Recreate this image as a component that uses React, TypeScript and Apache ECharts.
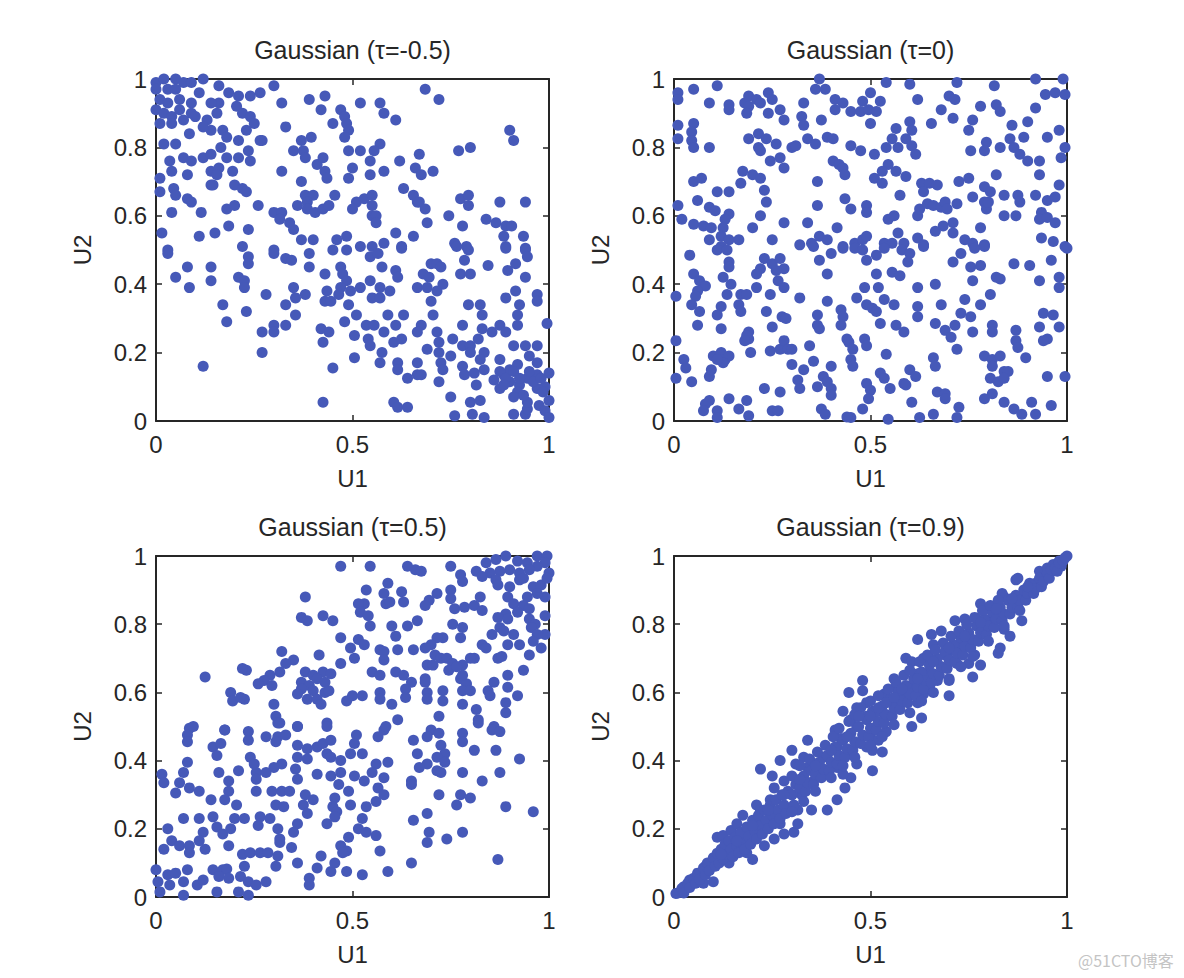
import React, { useEffect, useRef } from "react";
import * as echarts from "echarts";

const panelTitles = ["Gaussian (τ=-0.5)", "Gaussian (τ=0)", "Gaussian (τ=0.5)", "Gaussian (τ=0.9)"];
const xAxisName = "U1";
const yAxisName = "U2";
const xTickStep = 0.5;
const yTickStep = 0.2;
const watermark = "@51CTO博客";

const tauNeg05: number[][] = [
  [0.00,0.99],[0.02,1.00],[0.05,1.00],[0.07,0.99],[0.00,0.97],[0.03,0.97],[0.05,0.97],[0.01,0.94],[0.03,0.93],[0.06,0.94],[0.00,0.91],[0.02,0.90],[0.04,0.89],[0.07,0.88],[0.01,0.87],[0.04,0.87],[0.06,0.91],[0.09,0.99],[0.12,1.00],[0.11,0.96],[0.09,0.93],[0.09,0.90],[0.10,0.89],[0.13,0.88],[0.14,0.85],[0.155,0.90],[0.16,0.93],[0.16,0.98],[0.185,0.96],[0.14,0.93],[0.085,0.84],[0.12,0.86],
  [0.21,0.95],[0.24,0.95],[0.265,0.96],[0.205,0.92],[0.22,0.90],[0.24,0.89],[0.25,0.87],[0.30,0.98],[0.32,0.93],[0.33,0.86],[0.27,0.82],[0.39,0.94],[0.43,0.95],[0.42,0.91],[0.47,0.91],[0.48,0.89],[0.45,0.87],[0.485,0.87],[0.49,0.85],[0.48,0.83],[0.52,0.93],[0.57,0.93],[0.58,0.90],[0.61,0.88],[0.685,0.97],[0.72,0.94],[0.90,0.85],[0.91,0.82],
  [0.17,0.85],[0.18,0.83],[0.23,0.85],[0.21,0.82],
  [0.02,0.81],[0.05,0.81],[0.035,0.76],[0.04,0.73],[0.07,0.77],[0.09,0.76],[0.08,0.72],[0.12,0.77],[0.14,0.78],[0.165,0.80],[0.18,0.77],[0.14,0.73],[0.16,0.74],[0.155,0.72],[0.14,0.69],[0.195,0.73],[0.21,0.77],[0.235,0.79],[0.24,0.76],[0.265,0.82],
  [0.35,0.79],[0.37,0.82],[0.395,0.83],[0.375,0.79],[0.38,0.77],[0.41,0.75],[0.425,0.77],[0.43,0.73],[0.435,0.71],[0.32,0.73],[0.37,0.70],[0.49,0.79],[0.52,0.79],[0.545,0.76],[0.57,0.81],[0.555,0.79],[0.50,0.74],[0.49,0.71],[0.545,0.72],[0.58,0.73],[0.62,0.76],[0.67,0.78],[0.66,0.74],[0.675,0.72],[0.705,0.73],[0.77,0.79],[0.80,0.80],
  [0.01,0.71],[0.01,0.67],[0.045,0.68],[0.05,0.66],[0.08,0.65],[0.09,0.64],[0.145,0.69],[0.20,0.69],[0.22,0.68],[0.23,0.67],[0.38,0.66],[0.40,0.66],[0.455,0.66],[0.385,0.64],[0.51,0.64],[0.53,0.65],[0.55,0.66],[0.63,0.68],[0.655,0.66],[0.665,0.64],[0.775,0.65],[0.795,0.66],[0.795,0.63],[0.875,0.64],[0.94,0.64],
  [0.04,0.61],[0.115,0.61],[0.18,0.62],[0.20,0.63],[0.26,0.63],[0.30,0.61],[0.32,0.61],[0.315,0.59],[0.34,0.58],[0.35,0.56],[0.36,0.63],[0.385,0.62],[0.405,0.61],[0.425,0.62],[0.44,0.63],[0.50,0.62],[0.55,0.63],[0.55,0.60],[0.56,0.60],[0.56,0.58],[0.67,0.64],[0.685,0.62],[0.69,0.58],[0.745,0.60],[0.78,0.57],[0.84,0.59],[0.865,0.58],[0.89,0.57],[0.905,0.57],[0.885,0.54],[0.935,0.54],[0.015,0.55],[0.11,0.54],[0.15,0.55],[0.185,0.57],[0.235,0.56],[0.61,0.55],[0.655,0.54],[0.37,0.53],[0.40,0.53],[0.485,0.54],[0.46,0.53],[0.76,0.52],[0.79,0.51],[0.89,0.51],[0.94,0.505],[0.22,0.51],[0.52,0.51],[0.55,0.51],[0.58,0.52],[0.625,0.51],[0.30,0.50],[0.03,0.50],
  [0.03,0.49],[0.08,0.45],[0.05,0.42],[0.085,0.39],[0.14,0.45],[0.14,0.41],[0.235,0.48],[0.235,0.46],[0.21,0.42],[0.225,0.41],[0.225,0.39],[0.30,0.49],[0.33,0.475],[0.345,0.47],[0.39,0.49],[0.39,0.45],[0.35,0.39],[0.38,0.37],[0.355,0.36],[0.33,0.34],[0.28,0.37],[0.17,0.34],[0.23,0.32],[0.18,0.29],[0.355,0.31],[0.33,0.28],[0.30,0.28],[0.30,0.26],[0.27,0.26],[0.27,0.20],[0.12,0.16],[0.45,0.50],[0.485,0.50],[0.545,0.48],[0.565,0.49],[0.625,0.505],[0.47,0.45],[0.475,0.43],[0.43,0.43],[0.485,0.41],[0.47,0.39],[0.495,0.38],[0.465,0.37],[0.435,0.38],[0.43,0.35],[0.445,0.35],[0.49,0.34],[0.52,0.39],[0.545,0.41],[0.57,0.39],[0.55,0.36],[0.57,0.36],[0.595,0.38],[0.575,0.45],[0.61,0.44],[0.615,0.42],[0.70,0.46],[0.715,0.46],[0.725,0.45],[0.68,0.43],[0.695,0.42],[0.665,0.39],[0.69,0.39],[0.73,0.40],[0.715,0.38],[0.70,0.35],[0.765,0.51],[0.795,0.50],[0.785,0.47],[0.775,0.43],[0.80,0.43],[0.845,0.455],[0.89,0.505],[0.94,0.50],[0.945,0.48],[0.915,0.46],[0.895,0.44],[0.94,0.42],[0.915,0.38],[0.89,0.36],[0.97,0.37],[0.97,0.35],[0.925,0.34],[0.92,0.31],[0.795,0.34],[0.825,0.34],[0.83,0.31],[0.92,0.28],[0.995,0.285],[0.78,0.28],[0.705,0.31],
  [0.48,0.29],[0.51,0.31],[0.535,0.28],[0.555,0.28],[0.59,0.31],[0.61,0.28],[0.63,0.31],[0.42,0.27],[0.44,0.26],[0.425,0.23],[0.505,0.25],[0.54,0.24],[0.545,0.22],[0.58,0.26],[0.605,0.23],[0.625,0.24],[0.675,0.28],[0.665,0.26],[0.715,0.26],[0.72,0.23],[0.755,0.24],[0.78,0.22],[0.80,0.22],[0.82,0.24],[0.83,0.27],[0.855,0.26],[0.875,0.28],[0.89,0.26],[0.91,0.22],[0.94,0.22],[0.97,0.22],[0.95,0.19],[0.97,0.17],[0.69,0.21],[0.72,0.20],[0.75,0.19],[0.80,0.20],[0.835,0.20],[0.875,0.18],[0.825,0.18],[0.575,0.20],[0.57,0.17],[0.505,0.185],[0.45,0.155],[0.615,0.17],[0.615,0.15],[0.665,0.17],[0.725,0.17],[0.73,0.15],[0.72,0.115],[0.64,0.125],[0.665,0.135],[0.675,0.135],[0.78,0.16],[0.785,0.135],[0.81,0.14],[0.835,0.15],[0.815,0.105],[0.86,0.12],[0.885,0.135],[0.90,0.15],[0.92,0.165],[0.90,0.115],[0.925,0.105],[0.945,0.125],[0.97,0.135],[0.99,0.10],[1.0,0.14],[0.92,0.085],[0.97,0.095],[0.875,0.095],[0.75,0.07],[0.80,0.055],[0.825,0.06],[0.805,0.02],[0.835,0.01],[0.76,0.015],[0.91,0.02],[0.94,0.02],[0.945,0.035],[0.945,0.055],[0.975,0.045],[1.0,0.06],[0.99,0.03],[1.0,0.01],[0.425,0.055],[0.605,0.055],[0.615,0.04],[0.64,0.04],[0.875,0.145],[0.89,0.125],[0.91,0.145],[0.925,0.125],[0.96,0.115],[0.98,0.125],[0.985,0.085],[0.935,0.075],[0.91,0.07],[0.885,0.105],[0.95,0.145]
];

const tauZero: number[][] = [
  [0.01,0.96],[0.01,0.94],[0.05,0.97],[0.11,0.98],[0.09,0.93],[0.14,0.925],[0.14,0.91],[0.18,0.93],[0.19,0.95],[0.21,0.94],[0.19,0.92],[0.185,0.90],[0.22,0.93],[0.24,0.96],[0.25,0.94],[0.24,0.90],[0.27,0.91],[0.28,0.88],[0.37,1.0],[0.36,0.97],[0.385,0.97],[0.33,0.93],[0.325,0.89],[0.33,0.865],[0.375,0.88],[0.41,0.94],[0.43,0.93],[0.41,0.91],[0.45,0.905],[0.475,0.905],[0.48,0.935],[0.50,0.96],[0.495,0.91],[0.515,0.905],[0.525,0.935],[0.50,0.87],[0.54,0.99],[0.60,0.985],[0.62,0.94],[0.60,0.875],[0.605,0.85],[0.565,0.855],[0.655,0.87],[0.68,0.91],[0.70,0.95],[0.715,0.94],[0.71,0.885],[0.72,0.99],[0.78,0.92],[0.815,0.98],[0.82,0.925],[0.83,0.905],[0.76,0.88],[0.75,0.85],[0.86,0.865],[0.90,0.875],[0.92,0.915],[0.92,1.0],[0.99,1.0],[0.945,0.955],[0.97,0.96],[0.995,0.955],[0.98,0.85],[0.95,0.83],[0.89,0.83],[0.855,0.825],[0.795,0.815],[0.79,0.79],[0.83,0.80],[0.755,0.79],[0.865,0.80],[0.88,0.78],[0.90,0.76],[0.93,0.76],[0.93,0.72],[0.995,0.80],[0.985,0.77],[0.98,0.69],
  [0.01,0.865],[0.01,0.825],[0.05,0.87],[0.045,0.845],[0.045,0.82],[0.05,0.80],[0.09,0.80],[0.19,0.825],[0.215,0.84],[0.235,0.825],[0.215,0.80],[0.22,0.79],[0.26,0.81],[0.245,0.76],[0.27,0.77],[0.28,0.74],[0.30,0.80],[0.31,0.805],[0.34,0.825],[0.36,0.81],[0.39,0.83],[0.405,0.825],[0.45,0.805],[0.475,0.79],[0.51,0.78],[0.54,0.80],[0.555,0.825],[0.57,0.80],[0.59,0.825],[0.605,0.805],[0.615,0.78],[0.405,0.76],[0.42,0.75],[0.43,0.74],[0.435,0.72],[0.545,0.75],[0.53,0.73],[0.51,0.71],[0.53,0.695],[0.565,0.73],[0.59,0.715],[0.365,0.70],[0.365,0.63],[0.175,0.73],[0.20,0.72],[0.22,0.71],[0.17,0.695],[0.05,0.70],[0.07,0.71],[0.11,0.67],[0.14,0.67],[0.23,0.675],[0.235,0.64],[0.06,0.645],[0.09,0.625],[0.105,0.615],[0.14,0.605],[0.13,0.59],[0.125,0.565],[0.01,0.63],[0.02,0.59],[0.05,0.575],[0.075,0.57],[0.095,0.565],[0.09,0.53],[0.12,0.54],[0.14,0.53],[0.165,0.53],[0.12,0.51],[0.20,0.565],[0.22,0.60],[0.25,0.53],[0.28,0.58],[0.34,0.58],[0.32,0.515],[0.35,0.52],[0.37,0.54],[0.39,0.53],[0.415,0.565],[0.43,0.51],[0.435,0.65],[0.45,0.62],[0.49,0.63],[0.49,0.61],[0.545,0.59],[0.56,0.60],[0.57,0.55],[0.535,0.52],[0.555,0.52],[0.46,0.52],[0.48,0.53],[0.49,0.54],[0.575,0.66],[0.62,0.60],[0.625,0.62],[0.645,0.635],[0.66,0.63],[0.68,0.625],[0.69,0.64],[0.695,0.62],[0.63,0.695],[0.65,0.695],[0.67,0.69],[0.635,0.67],[0.72,0.635],[0.725,0.70],[0.75,0.71],[0.76,0.655],[0.79,0.64],[0.795,0.62],[0.80,0.64],[0.79,0.685],[0.805,0.67],[0.82,0.72],[0.84,0.66],[0.875,0.66],[0.88,0.64],[0.84,0.60],[0.87,0.60],[0.92,0.66],[0.95,0.645],[0.97,0.655],[0.935,0.61],[0.93,0.59],[0.95,0.595],[0.97,0.58],[0.78,0.565],[0.71,0.58],[0.685,0.57],[0.665,0.555],[0.71,0.55],[0.62,0.535],[0.635,0.515],[0.585,0.52],[0.74,0.53],[0.76,0.52],[0.79,0.515],[0.935,0.535],[0.965,0.525],[0.995,0.51],
  [0.04,0.485],[0.11,0.50],[0.135,0.50],[0.14,0.465],[0.14,0.45],[0.05,0.43],[0.065,0.41],[0.08,0.395],[0.06,0.38],[0.055,0.365],[0.005,0.365],[0.045,0.34],[0.065,0.32],[0.06,0.28],[0.005,0.235],[0.125,0.42],[0.145,0.40],[0.135,0.37],[0.17,0.37],[0.185,0.37],[0.165,0.34],[0.17,0.32],[0.12,0.335],[0.11,0.31],[0.12,0.27],[0.19,0.26],[0.19,0.24],[0.195,0.20],[0.23,0.475],[0.22,0.445],[0.21,0.43],[0.25,0.46],[0.27,0.475],[0.28,0.445],[0.26,0.44],[0.265,0.41],[0.28,0.39],[0.21,0.39],[0.245,0.37],[0.235,0.32],[0.275,0.305],[0.285,0.30],[0.25,0.275],[0.32,0.36],[0.245,0.205],[0.27,0.21],[0.28,0.235],[0.29,0.21],[0.30,0.21],[0.345,0.22],[0.30,0.165],[0.33,0.15],[0.355,0.175],[0.365,0.31],[0.365,0.28],[0.37,0.27],[0.39,0.35],[0.39,0.43],[0.37,0.47],[0.355,0.51],[0.40,0.49],[0.425,0.325],[0.43,0.305],[0.425,0.28],[0.43,0.505],[0.46,0.505],[0.48,0.50],[0.49,0.47],[0.515,0.485],[0.515,0.43],[0.555,0.435],[0.575,0.425],[0.535,0.505],[0.58,0.50],[0.60,0.49],[0.595,0.465],[0.635,0.51],
  [0.485,0.39],[0.52,0.39],[0.465,0.36],[0.49,0.34],[0.505,0.33],[0.515,0.32],[0.535,0.355],[0.56,0.34],[0.525,0.285],[0.565,0.28],[0.585,0.26],[0.62,0.335],[0.62,0.305],[0.62,0.39],[0.665,0.40],[0.68,0.34],[0.665,0.285],[0.69,0.265],[0.705,0.245],[0.715,0.28],[0.72,0.21],[0.73,0.315],[0.755,0.305],[0.74,0.355],[0.76,0.26],[0.78,0.34],[0.805,0.37],[0.76,0.41],[0.82,0.42],[0.83,0.415],[0.71,0.465],[0.73,0.49],[0.755,0.45],[0.78,0.455],[0.765,0.505],[0.79,0.51],[0.81,0.28],[0.81,0.26],[0.865,0.46],[0.905,0.455],[0.93,0.41],[0.96,0.47],[0.98,0.42],[0.98,0.39],[1.0,0.505],[0.94,0.315],[0.965,0.31],[0.98,0.275],[0.93,0.275],[0.95,0.24],[0.94,0.235],[0.87,0.265],[0.87,0.235],[0.875,0.215],[0.895,0.185],[0.79,0.19],[0.81,0.18],[0.83,0.19],[0.81,0.16],[0.805,0.125],[0.825,0.115],[0.84,0.145],[0.81,0.08],[0.79,0.065],[0.84,0.055],[0.865,0.035],[0.885,0.02],[0.92,0.02],[0.91,0.055],[0.96,0.045],[0.95,0.13],[0.995,0.13],[0.725,0.04],[0.72,0.01],[0.66,0.02],[0.625,0.01],[0.67,0.085],[0.69,0.08],[0.69,0.065],[0.605,0.055],[0.66,0.185],[0.665,0.16],[0.60,0.15],[0.615,0.13],[0.585,0.11],[0.59,0.105],[0.55,0.095],[0.525,0.14],[0.535,0.125],[0.54,0.195],[0.49,0.11],[0.50,0.09],[0.495,0.065],[0.48,0.035],[0.545,0.005],[0.45,0.01],[0.44,0.012],
  [0.38,0.13],[0.39,0.115],[0.40,0.095],[0.40,0.075],[0.365,0.10],[0.315,0.12],[0.32,0.095],[0.27,0.085],[0.23,0.095],[0.375,0.035],[0.385,0.02],[0.40,0.16],[0.45,0.18],[0.455,0.16],[0.445,0.23],[0.455,0.21],[0.485,0.24],[0.49,0.22],[0.44,0.24],[0.09,0.06],[0.08,0.05],[0.075,0.03],[0.11,0.03],[0.11,0.01],[0.14,0.065],[0.165,0.035],[0.185,0.06],[0.19,0.015],[0.25,0.03],[0.265,0.03],[0.005,0.125],[0.045,0.115],[0.09,0.13],[0.095,0.15],[0.025,0.18],[0.03,0.155],[0.10,0.19],[0.12,0.20],[0.13,0.18],[0.14,0.19],[0.125,0.17],[0.11,0.18],[0.185,0.25],[0.18,0.235],[0.85,0.145],[0.84,0.125]
];

const tauPos05: number[][] = [
  [0.84,0.98],[0.865,0.99],[0.89,1.0],[0.92,0.985],[0.945,0.98],[0.97,1.0],[0.995,1.0],[0.99,0.98],[1.0,0.95],[0.97,0.97],[0.95,0.96],[0.925,0.95],[0.90,0.96],[0.875,0.955],[0.85,0.95],[0.815,0.955],[0.83,0.94],[0.865,0.93],[0.87,0.915],[0.925,0.93],[0.935,0.935],[0.90,0.91],[0.96,0.91],[0.98,0.915],[0.995,0.935],[0.99,0.88],[0.97,0.89],[0.945,0.88],[0.895,0.88],[0.91,0.86],[0.935,0.855],[0.95,0.845],[0.92,0.835],[0.89,0.83],[0.87,0.82],[0.895,0.815],[0.99,0.825],[0.95,0.815],[0.965,0.80],[0.955,0.79],[0.99,0.77],[0.97,0.77],[0.96,0.75],[0.98,0.73],[0.875,0.79],[0.855,0.77],[0.885,0.78],[0.91,0.77],[0.895,0.74],[0.925,0.74],[0.95,0.71],[0.87,0.70],[0.88,0.705],[0.83,0.74],[0.84,0.73],[0.81,0.70],[0.935,0.665],[0.895,0.65],[0.86,0.63],[0.895,0.615],[0.92,0.59],[0.89,0.57],[0.89,0.54],[0.82,0.52],[0.815,0.55],[0.845,0.605],[0.85,0.59],[0.78,0.565],
  [0.75,0.97],[0.775,0.945],[0.78,0.925],[0.75,0.90],[0.75,0.875],[0.76,0.845],[0.785,0.85],[0.81,0.855],[0.825,0.88],[0.83,0.84],[0.755,0.80],[0.78,0.79],[0.775,0.76],[0.80,0.70],[0.78,0.68],[0.775,0.64],[0.79,0.625],[0.78,0.605],[0.80,0.605],[0.78,0.65],[0.73,0.76],[0.715,0.76],[0.70,0.74],[0.685,0.73],[0.71,0.71],[0.725,0.70],[0.74,0.70],[0.755,0.685],[0.745,0.665],[0.765,0.675],[0.69,0.68],[0.705,0.68],[0.685,0.64],[0.685,0.63],[0.73,0.605],[0.73,0.575],[0.69,0.60],[0.69,0.58],[0.72,0.53],[0.64,0.97],[0.66,0.96],[0.675,0.955],[0.715,0.89],[0.695,0.87],[0.685,0.855],[0.665,0.81],[0.64,0.795],[0.655,0.725],[0.615,0.725],[0.61,0.66],[0.63,0.65],[0.65,0.63],[0.635,0.61],[0.635,0.585],[0.60,0.565],[0.615,0.52],[0.57,0.60],[0.57,0.58],[0.55,0.66],[0.57,0.65],[0.57,0.725],[0.58,0.72],[0.58,0.695],[0.59,0.92],[0.58,0.89],[0.585,0.86],[0.595,0.865],[0.625,0.895],[0.63,0.865],[0.60,0.795],[0.61,0.765],
  [0.535,0.90],[0.53,0.86],[0.515,0.86],[0.52,0.835],[0.54,0.825],[0.545,0.795],[0.545,0.97],[0.47,0.97],[0.47,0.76],[0.515,0.755],[0.495,0.73],[0.505,0.70],[0.53,0.74],[0.47,0.685],[0.425,0.825],[0.45,0.81],[0.38,0.88],[0.37,0.82],[0.385,0.81],[0.415,0.71],[0.32,0.72],[0.35,0.695],[0.33,0.685],[0.315,0.66],[0.29,0.65],[0.275,0.635],[0.26,0.625],[0.295,0.62],[0.23,0.665],[0.22,0.67],[0.38,0.66],[0.40,0.65],[0.425,0.66],[0.445,0.655],[0.37,0.63],[0.39,0.62],[0.41,0.64],[0.43,0.63],[0.37,0.61],[0.40,0.605],[0.43,0.60],[0.44,0.605],[0.36,0.595],[0.385,0.58],[0.41,0.58],[0.42,0.565],[0.30,0.565],[0.305,0.53],[0.31,0.51],[0.36,0.50],[0.435,0.51],[0.125,0.645],[0.19,0.60],[0.195,0.575],[0.225,0.58],[0.215,0.585],[0.485,0.575],[0.50,0.59],[0.525,0.59],[0.085,0.495],[0.175,0.49],[0.58,0.49],[0.70,0.49],[0.86,0.50],
  [0.095,0.50],[0.08,0.475],[0.08,0.455],[0.175,0.49],[0.235,0.485],[0.235,0.46],[0.28,0.47],[0.31,0.47],[0.33,0.475],[0.305,0.455],[0.315,0.51],[0.36,0.50],[0.36,0.445],[0.385,0.435],[0.41,0.44],[0.425,0.45],[0.445,0.46],[0.435,0.42],[0.445,0.41],[0.47,0.40],[0.435,0.50],[0.385,0.405],[0.36,0.41],[0.355,0.375],[0.51,0.475],[0.505,0.45],[0.495,0.42],[0.525,0.42],[0.565,0.47],[0.585,0.50],[0.82,0.51],[0.855,0.49],[0.875,0.485],[0.78,0.48],[0.78,0.455],[0.72,0.48],[0.69,0.47],[0.655,0.46],[0.725,0.445],[0.735,0.42],[0.715,0.41],[0.735,0.395],[0.69,0.39],[0.67,0.38],[0.715,0.37],[0.725,0.365],[0.665,0.42],[0.81,0.43],[0.865,0.43],[0.925,0.405],[0.78,0.365],[0.875,0.365],[0.83,0.34],[0.65,0.34],[0.65,0.33],[0.59,0.395],[0.56,0.39],[0.55,0.365],[0.58,0.35],[0.53,0.34],[0.565,0.32],[0.58,0.30],[0.56,0.28],[0.535,0.265],[0.525,0.23],[0.515,0.20],[0.535,0.19],[0.56,0.18],
  [0.49,0.31],[0.495,0.27],[0.455,0.29],[0.45,0.265],[0.46,0.25],[0.435,0.215],[0.455,0.235],[0.445,0.355],[0.47,0.365],[0.465,0.33],[0.505,0.355],[0.41,0.36],[0.36,0.345],[0.38,0.30],[0.40,0.285],[0.375,0.27],[0.385,0.245],[0.36,0.215],[0.35,0.19],[0.32,0.39],[0.30,0.38],[0.28,0.365],[0.255,0.365],[0.24,0.41],[0.25,0.39],[0.255,0.345],[0.255,0.31],[0.295,0.31],[0.32,0.31],[0.34,0.31],[0.305,0.27],[0.325,0.265],[0.29,0.23],[0.265,0.235],[0.26,0.21],[0.31,0.20],[0.315,0.17],[0.345,0.145],[0.315,0.16],[0.145,0.44],[0.165,0.45],[0.155,0.415],[0.08,0.395],[0.07,0.365],[0.015,0.36],[0.02,0.335],[0.06,0.335],[0.085,0.32],[0.05,0.305],[0.11,0.31],[0.16,0.365],[0.185,0.34],[0.21,0.37],[0.185,0.31],[0.175,0.285],[0.14,0.285],[0.205,0.27],[0.07,0.23],[0.11,0.23],[0.145,0.235],[0.155,0.205],[0.17,0.185],[0.19,0.20],[0.20,0.23],[0.225,0.23],
  [0.03,0.20],[0.04,0.165],[0.02,0.14],[0.06,0.15],[0.085,0.15],[0.085,0.13],[0.12,0.19],[0.11,0.165],[0.125,0.14],[0.185,0.15],[0.22,0.125],[0.24,0.13],[0.265,0.13],[0.285,0.13],[0.31,0.12],[0.225,0.09],[0.305,0.09],[0.36,0.10],[0.00,0.08],[0.03,0.065],[0.05,0.07],[0.08,0.08],[0.005,0.045],[0.035,0.035],[0.07,0.045],[0.01,0.015],[0.07,0.005],[0.105,0.035],[0.12,0.05],[0.145,0.08],[0.17,0.08],[0.18,0.082],[0.16,0.06],[0.185,0.055],[0.215,0.06],[0.155,0.015],[0.21,0.015],[0.235,0.005],[0.235,0.045],[0.255,0.035],[0.28,0.045],[0.39,0.055],[0.39,0.035],[0.41,0.085],[0.42,0.12],[0.445,0.075],[0.455,0.10],[0.485,0.075],[0.47,0.15],[0.485,0.135],[0.475,0.13],[0.49,0.175],[0.525,0.065],[0.57,0.135],[0.59,0.075],[0.65,0.10],[0.655,0.225],[0.69,0.245],[0.695,0.19],[0.69,0.16],[0.74,0.17],[0.78,0.19],[0.775,0.30],[0.765,0.27],[0.80,0.29],[0.72,0.30],[0.87,0.11],[0.89,0.265],[0.96,0.25]
];

const tauPos09: number[][] = [
  [0.005,0.01],[0.025,0.03],[0.04,0.05],[0.06,0.065],[0.075,0.04],[0.10,0.045],[0.08,0.09],[0.10,0.11],[0.12,0.125],[0.135,0.145],[0.11,0.175],[0.125,0.18],[0.145,0.195],[0.16,0.215],[0.175,0.24],[0.17,0.165],[0.20,0.11],[0.14,0.10],[0.185,0.13],[0.16,0.145],[0.195,0.165],[0.215,0.225],[0.23,0.15],[0.21,0.27],[0.22,0.255],[0.245,0.225],[0.255,0.17],[0.245,0.285],[0.27,0.215],[0.28,0.185],[0.305,0.19],[0.29,0.25],[0.315,0.255],[0.315,0.215],[0.255,0.32],[0.28,0.34],[0.30,0.30],[0.325,0.30],[0.25,0.355],[0.22,0.375],[0.27,0.40],[0.30,0.43],[0.31,0.39],[0.33,0.41],[0.34,0.38],[0.34,0.46],[0.355,0.34],[0.35,0.255],[0.36,0.39],[0.38,0.41],[0.39,0.36],[0.39,0.255],[0.415,0.285],[0.435,0.32],[0.415,0.38],[0.415,0.44],[0.41,0.49],[0.425,0.465],[0.45,0.42],[0.465,0.39],[0.45,0.35],[0.43,0.36],
  [0.43,0.545],[0.445,0.60],[0.48,0.635],[0.48,0.605],[0.465,0.555],[0.45,0.52],[0.465,0.50],[0.49,0.53],[0.49,0.57],[0.505,0.545],[0.50,0.47],[0.49,0.44],[0.52,0.46],[0.505,0.43],[0.53,0.425],[0.505,0.37],[0.515,0.50],[0.54,0.485],[0.535,0.535],[0.535,0.595],[0.55,0.575],[0.56,0.64],[0.565,0.615],[0.575,0.565],[0.585,0.59],[0.60,0.615],[0.59,0.70],[0.605,0.69],[0.62,0.655],[0.605,0.50],[0.63,0.525],[0.62,0.57],[0.635,0.595],[0.65,0.615],[0.62,0.755],[0.655,0.77],[0.68,0.78],[0.66,0.74],[0.65,0.66],[0.67,0.635],[0.68,0.675],[0.70,0.59],[0.70,0.635],[0.72,0.685],[0.72,0.73],[0.715,0.81],[0.74,0.815],[0.735,0.77],[0.73,0.745],[0.75,0.74],[0.765,0.71],[0.75,0.685],[0.78,0.68],[0.76,0.645],[0.695,0.715],[0.69,0.71],[0.65,0.70],[0.635,0.70],
  [0.78,0.86],[0.77,0.815],[0.785,0.79],[0.81,0.845],[0.825,0.715],[0.83,0.73],[0.805,0.81],[0.82,0.82],[0.84,0.785],[0.855,0.765],[0.84,0.88],[0.835,0.89],[0.86,0.865],[0.875,0.85],[0.89,0.88],[0.885,0.81],[0.87,0.93],[0.875,0.935],[0.895,0.90],[0.92,0.92],[0.93,0.955],[0.95,0.965],[0.94,0.935],[0.965,0.975],[0.98,0.985],[1.0,1.0],[0.985,0.97],[0.955,0.95],[0.905,0.92],
  [0.01,0.012],[0.02,0.025],[0.025,0.012],[0.035,0.04],[0.04,0.028],[0.05,0.055],[0.055,0.04],[0.06,0.07],[0.065,0.052],[0.075,0.085],[0.08,0.065],[0.085,0.1],[0.09,0.078],[0.1,0.115],[0.105,0.09],[0.11,0.128],[0.115,0.1],[0.12,0.14],[0.125,0.112],[0.13,0.155],[0.135,0.125],[0.14,0.165],[0.145,0.14],[0.15,0.118],[0.155,0.175],[0.16,0.15],[0.165,0.13],[0.17,0.19],[0.175,0.16],[0.18,0.14],[0.185,0.205],[0.19,0.178],[0.195,0.155],[0.2,0.225],[0.205,0.195],[0.21,0.17],[0.215,0.24],[0.22,0.21],[0.225,0.185],[0.23,0.255],[0.235,0.225],[0.24,0.2],[0.245,0.27],[0.25,0.24],[0.255,0.215],[0.26,0.285],[0.265,0.255],[0.27,0.23],[0.275,0.3],[0.28,0.27],[0.285,0.245],[0.29,0.31],[0.3,0.3],[0.305,0.27],[0.31,0.33],[0.32,0.32],[0.33,0.355],[0.335,0.31],[0.34,0.335],[0.35,0.37],[0.355,0.33],[0.36,0.36],[0.37,0.395],[0.375,0.35],[0.38,0.375],[0.39,0.415],[0.395,0.37],[0.4,0.395],[0.41,0.44],[0.415,0.39],[0.42,0.415],[0.43,0.46],[0.435,0.41],[0.44,0.435],[0.45,0.48],[0.455,0.43],[0.46,0.455],[0.47,0.5],[0.475,0.45],[0.48,0.475],[0.49,0.52],[0.495,0.47],[0.5,0.495],[0.51,0.54],[0.515,0.49],[0.52,0.515],[0.53,0.56],[0.535,0.51],[0.54,0.535],[0.55,0.58],[0.555,0.53],[0.56,0.555],[0.57,0.6],[0.575,0.55],[0.58,0.575],[0.59,0.62],[0.595,0.57],[0.6,0.595],[0.61,0.64],[0.615,0.59],[0.62,0.615],[0.63,0.66],[0.635,0.61],[0.64,0.635],[0.65,0.68],[0.655,0.63],[0.66,0.655],[0.67,0.7],[0.675,0.65],[0.68,0.675],[0.69,0.72],[0.695,0.67],[0.7,0.695],[0.71,0.74],[0.715,0.69],[0.72,0.715],[0.73,0.76],[0.735,0.71],[0.74,0.735],[0.75,0.775],[0.755,0.73],[0.76,0.755],[0.77,0.795],[0.775,0.75],[0.78,0.775],[0.79,0.815],[0.795,0.77],[0.8,0.795],[0.81,0.835],[0.815,0.79],[0.82,0.815],[0.83,0.85],[0.835,0.81],[0.84,0.83],[0.85,0.87],[0.855,0.83],[0.86,0.85],[0.87,0.885],[0.875,0.85],[0.88,0.87],[0.89,0.9],[0.895,0.87],[0.9,0.89],[0.91,0.915],[0.915,0.89],[0.92,0.905],[0.93,0.935],[0.935,0.91],[0.94,0.925],[0.95,0.95],[0.955,0.935],[0.96,0.96],[0.97,0.965],[0.975,0.955],[0.98,0.98],[0.99,0.985],[0.995,0.995],
  [0.3,0.355],[0.32,0.385],[0.345,0.405],[0.365,0.425],[0.385,0.445],[0.405,0.47],[0.42,0.495],[0.445,0.515],[0.46,0.535],[0.475,0.555],[0.5,0.575],[0.52,0.59],[0.545,0.61],[0.565,0.63],[0.585,0.65],[0.6,0.665],[0.625,0.69],[0.645,0.71],[0.665,0.725],[0.685,0.745],[0.705,0.765],[0.725,0.78],[0.745,0.8],[0.765,0.82],[0.785,0.84],[0.805,0.855],[0.825,0.87],
  [0.3,0.25],[0.33,0.28],[0.36,0.31],[0.4,0.35],[0.43,0.385],[0.46,0.41],[0.5,0.445],[0.53,0.47],[0.56,0.505],[0.6,0.54],[0.63,0.575],[0.66,0.6],[0.7,0.64],[0.73,0.675],[0.76,0.705],[0.8,0.75],[0.84,0.795],[0.88,0.84],
  [0.52,0.555],[0.54,0.57],[0.56,0.585],[0.5,0.53],[0.47,0.53],[0.58,0.61],[0.62,0.64],[0.66,0.69],[0.7,0.73],[0.74,0.765],[0.78,0.805],[0.82,0.845],[0.86,0.875],[0.9,0.91],[0.44,0.47],[0.4,0.43],[0.36,0.385],[0.32,0.345],[0.28,0.3],[0.24,0.255],[0.2,0.21],[0.16,0.165],[0.12,0.125]
];

const panelData = [tauNeg05, tauZero, tauPos05, tauPos09];

const AXIS_COLOR = "#262626";
const POINT_COLOR = "#4659B8";
const FONT = "'Liberation Sans', Arial, Helvetica, sans-serif";

export default function App() {
  const ref = useRef<HTMLDivElement>(null);

  useEffect(() => {
    if (!ref.current) return;
    const chart = echarts.init(ref.current, undefined, { renderer: "svg" });

    const layout = [
      { left: 156, top: 79, width: 393, height: 342 },
      { left: 674, top: 79, width: 393, height: 342 },
      { left: 156, top: 556, width: 393, height: 341 },
      { left: 674, top: 556, width: 393, height: 341 },
    ];

    const lineStyle = { color: AXIS_COLOR, width: 2 };
    const tickStyle = { color: AXIS_COLOR, width: 1.5 };
    const labelStyle = { color: AXIS_COLOR, fontSize: 24, fontFamily: FONT };

    const xAxes: any[] = [];
    const yAxes: any[] = [];
    const series: any[] = [];
    const graphics: any[] = [];

    layout.forEach((g, i) => {
      const common = { type: "value", min: 0, max: 1, gridIndex: i, splitLine: { show: false } };
      xAxes.push({
        ...common,
        interval: xTickStep,
        position: "bottom",
        name: xAxisName,
        nameLocation: "middle",
        nameGap: 45,
        nameTextStyle: { ...labelStyle },
        axisLine: { show: true, lineStyle, onZero: false },
        axisTick: { show: true, inside: true, length: 6, lineStyle: tickStyle },
        axisLabel: { ...labelStyle, margin: 11 },
      });
      xAxes.push({
        ...common,
        interval: xTickStep,
        position: "top",
        axisLine: { show: true, lineStyle, onZero: false },
        axisTick: { show: true, inside: true, length: 6, lineStyle: tickStyle },
        axisLabel: { show: false },
      });
      yAxes.push({
        ...common,
        interval: yTickStep,
        position: "left",
        name: yAxisName,
        nameLocation: "middle",
        nameGap: 62,
        nameRotate: 90,
        nameTextStyle: { ...labelStyle },
        axisLine: { show: true, lineStyle, onZero: false },
        axisTick: { show: true, inside: true, length: 6, lineStyle: tickStyle },
        axisLabel: { ...labelStyle, margin: 9 },
      });
      yAxes.push({
        ...common,
        interval: yTickStep,
        position: "right",
        axisLine: { show: true, lineStyle, onZero: false },
        axisTick: { show: true, inside: true, length: 6, lineStyle: tickStyle },
        axisLabel: { show: false },
      });
      series.push({
        type: "scatter",
        name: panelTitles[i],
        xAxisIndex: 2 * i,
        yAxisIndex: 2 * i,
        data: panelData[i],
        symbol: "circle",
        symbolSize: 11,
        clip: false,
        itemStyle: { color: POINT_COLOR, opacity: 1 },
        emphasis: { disabled: true },
        z: 3,
      });
      graphics.push({
        type: "text",
        x: g.left + g.width / 2,
        y: i < 2 ? 50 : 527,
        style: {
          text: panelTitles[i],
          textAlign: "center",
          textVerticalAlign: "middle",
          font: `25px ${FONT}`,
          fill: AXIS_COLOR,
        },
      });
    });

    graphics.push({
      type: "text",
      x: 1078,
      y: 960,
      style: {
        text: watermark,
        textAlign: "left",
        textVerticalAlign: "middle",
        font: "16px 'Noto Sans CJK SC', 'Liberation Sans', sans-serif",
        fill: "#c4c4c4",
      },
    });

    chart.setOption({
      animation: false,
      backgroundColor: "#ffffff",
      grid: layout.map((g) => ({ ...g, containLabel: false, show: false })),
      xAxis: xAxes,
      yAxis: yAxes,
      series,
      graphic: graphics,
    });

    return () => chart.dispose();
  }, []);

  return (
    <div
      ref={ref}
      style={{ position: "fixed", left: 0, top: 0, width: 1184, height: 978, background: "#fff" }}
    />
  );
}
